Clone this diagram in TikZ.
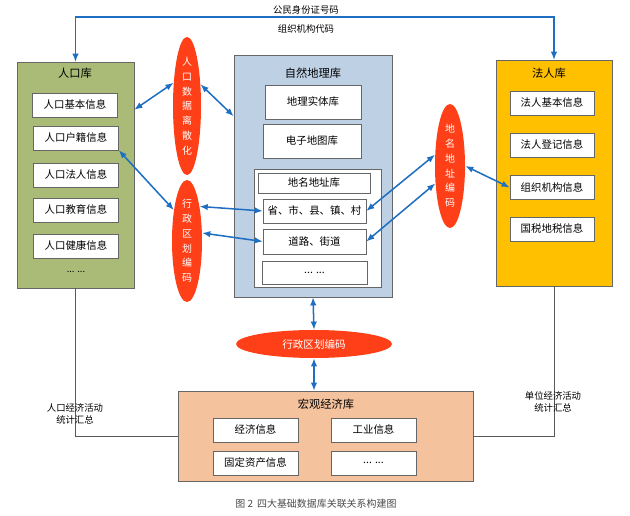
\documentclass[tikz,border=0pt]{standalone}
\usepackage{fontspec}
\setmainfont{Noto Sans CJK SC}
\usetikzlibrary{shapes.geometric,arrows.meta}
\definecolor{rkgreen}{RGB}{169,187,118}
\definecolor{zrblue}{RGB}{189,208,228}
\definecolor{frgold}{RGB}{255,192,0}
\definecolor{hgpeach}{RGB}{245,194,158}
\definecolor{tagred}{RGB}{255,63,23}
\definecolor{linkblue}{RGB}{30,111,193}
\begin{document}
\begin{tikzpicture}[>={Latex[length=7pt,width=5.5pt]},x=0.03cm,y=-0.03cm,
  ku/.style={draw=black!60,inner sep=0pt},
  box/.style={draw=black!60,fill=white,inner sep=0pt,font=\fontsize{8.9}{10}\selectfont},
  title/.style={font=\fontsize{9.6}{11}\selectfont},
  tag/.style={ellipse,fill=tagred,text=white,inner sep=0pt,align=center,font=\fontsize{8.5}{12.6}\selectfont},
  link/.style={<->,draw=linkblue,line width=1.3pt},
  hui/.style={draw=black!65,line width=0.5pt},
  note/.style={align=center,font=\fontsize{8}{10}\selectfont}]
\useasboundingbox (0,0) rectangle (630,516);
\node[ku,fill=rkgreen,minimum width=3.51cm,minimum height=6.78cm] (renk) at (75.5,175) {};
\node[title] (renkt) at (75,73) {人口库};
\node[box,minimum width=2.55cm,minimum height=0.72cm] (rk1) at (75,105) {人口基本信息};
\node[box,minimum width=2.55cm,minimum height=0.72cm] (rk2) at (76,138) {人口户籍信息};
\node[box,minimum width=2.55cm,minimum height=0.72cm] (rk3) at (76,175) {人口法人信息};
\node[box,minimum width=2.55cm,minimum height=0.72cm] (rk4) at (76,210) {人口教育信息};
\node[box,minimum width=2.55cm,minimum height=0.72cm] (rk5) at (76,246) {人口健康信息};
\node[font=\fontsize{8}{10}\selectfont] (rk6) at (76,272) {... ...};

\node[ku,fill=zrblue,minimum width=4.74cm,minimum height=7.26cm] (zr) at (313,176) {};
\node[title] (zrt) at (313,73) {自然地理库};
\node[box,minimum width=2.88cm,minimum height=1.02cm] (zr1) at (313,102) {地理实体库};
\node[box,minimum width=2.94cm,minimum height=1.02cm] (zr2) at (312,141) {电子地图库};
\node[ku,fill=white,minimum width=3.81cm,minimum height=3.54cm] (dm) at (317.5,228) {};
\node[box,minimum width=3.36cm,minimum height=0.6cm] (dm0) at (314,183) {地名地址库};
\node[box,minimum width=3.09cm,minimum height=0.72cm] (dm1) at (314.5,211) {省、市、县、镇、村};
\node[box,minimum width=3.09cm,minimum height=0.75cm] (dm2) at (314.5,241.5) {道路、街道};
\node[box,minimum width=3.15cm,minimum height=0.69cm] (dm3) at (314.5,272.5) {... ...};

\node[ku,fill=frgold,minimum width=3.48cm,minimum height=6.78cm] (fr) at (554,173) {};
\node[title] (frt) at (549,73) {法人库};
\node[box,minimum width=2.52cm,minimum height=0.72cm] (fr1) at (552,103) {法人基本信息};
\node[box,minimum width=2.52cm,minimum height=0.72cm] (fr2) at (552,145) {法人登记信息};
\node[box,minimum width=2.52cm,minimum height=0.72cm] (fr3) at (552,187.5) {组织机构信息};
\node[box,minimum width=2.52cm,minimum height=0.72cm] (fr4) at (552,229) {国税地税信息};

\node[tag,minimum width=0.84cm,minimum height=3.66cm] (sj) at (187,106) {人\\口\\数\\据\\离\\散\\化};
\node[tag,minimum width=0.9cm,minimum height=3.66cm] (xq1) at (187,241) {行\\政\\区\\划\\编\\码};
\node[tag,minimum width=0.9cm,minimum height=3.72cm] (dz) at (450,166) {地\\名\\地\\址\\编\\码};
\node[tag,minimum width=4.68cm,minimum height=0.84cm,font=\fontsize{9}{11}\selectfont] (xq2) at (314,344) {行政区划编码};

\node[ku,fill=hgpeach,minimum width=8.85cm,minimum height=2.7cm] (hg) at (325.5,436) {};
\node[title] (hgt) at (326,404) {宏观经济库};
\node[box,minimum width=2.55cm,minimum height=0.72cm] (hg1) at (255.5,430) {经济信息};
\node[box,minimum width=2.55cm,minimum height=0.72cm] (hg2) at (373.5,430) {工业信息};
\node[box,minimum width=2.55cm,minimum height=0.72cm] (hg3) at (255.5,463) {固定资产信息};
\node[box,minimum width=2.55cm,minimum height=0.72cm] (hg4) at (373.5,463) {... ...};

\coordinate (up) at (554,17);
\draw[link,line width=1pt] (renk.north) |- (up) -- (fr.north);
\node[note] (sfz) at (306,10) {公民身份证号码};
\node[note] (zzjg) at (306,29) {组织机构代码};

\draw[link] (renk.48) -- (sj.120);
\draw[link] (sj.58) -- (zr.143);
\draw[link] (rk2.south east) -- (xq1.113);
\draw[link] (xq1.70) -- (dm1.west);
\draw[link] (xq1.28) -- (dm2.west);
\draw[link] (dm1.east) -- (dz.143);
\draw[link] (dm2.east) -- (dz.230);
\draw[link] (dz.east) -- (fr3.west);
\draw[link] (zr.south) -- (xq2.north);
\draw[link] (xq2.south) -- (xq2.south |- hg.north);

\draw[hui] (renk.south) |- (hg.west);
\draw[hui] (fr.south) |- (hg.east);
\node[note] (rkjj) at (75,414) {人口经济活动\\统计汇总};
\node[note] (dwjj) at (553,402) {单位经济活动\\统计汇总};
\node[font=\fontsize{8.5}{10}\selectfont,text=black!70] (cap) at (316,504) {图 2\, 四大基础数据库关联关系构建图};
\end{tikzpicture}
\end{document}
